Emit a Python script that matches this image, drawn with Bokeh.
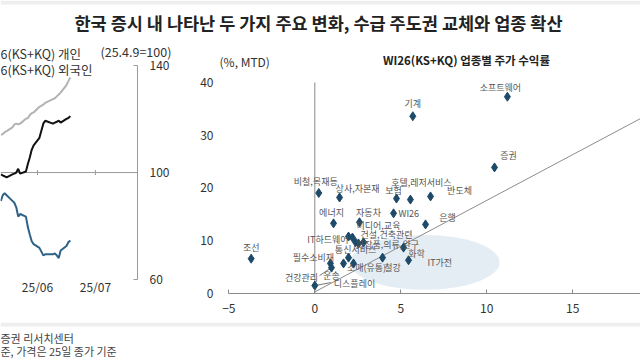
from bokeh.plotting import figure
from bokeh.models import ColumnDataSource, Label, FixedTicker, Range1d, BoxAnnotation
from bokeh.layouts import column, row
from bokeh.embed import file_html
from bokeh.resources import INLINE
from bokeh.core.properties import value, field

FONT = "Noto Sans CJK KR"

# ---------------- left chart data (index, 25.4.9 = 100) ----------------
line_days = [-19, -18, -17, -16, -13, -12, -11, -10, -9, -6, -5, -4, -3, -2,
             1, 3, 4, 8, 9, 10, 11, 12, 15, 16, 17]
gray_vals = [114.1, 114.4, 115.1, 115.5, 116.9, 118.0, 118.3, 118.0, 118.3, 120.1,
             120.4, 121.5, 122.2, 122.5, 124.6, 125.4, 126.1, 127.5, 127.8, 128.5,
             129.2, 129.9, 132.7, 134.2, 135.6]
black_vals = [99.3, 98.9, 98.6, 98.2, 99.3, 99.6, 100.0, 101.4, 99.6, 100.4,
              103.2, 105.6, 108.5, 110.2, 113.0, 118.3, 119.4, 118.3, 118.7, 119.0,
              119.4, 118.7, 120.1, 120.4, 121.1]
blue_vals = [89.4, 91.5, 92.3, 91.5, 89.4, 88.7, 87.0, 83.5, 84.5, 83.5,
             79.6, 76.8, 74.3, 73.2, 71.8, 69.0, 69.4, 69.4, 69.7, 69.0,
             68.0, 70.8, 72.5, 73.9, 74.6]
left_y_ticks = [60, 100, 140]
left_x_ticks = [0, 30]
left_x_labels = ["25/06", "25/07"]
legend_texts = ["6(KS+KQ) 개인", "6(KS+KQ) 외국인"]

# ---------------- right chart data (%, MTD) ----------------
sectors = ["조선", "기계", "소프트웨어", "증권", "비철,목재등", "상사,자본재", "보험",
           "호텔,레저서비스", "반도체", "에너지", "자동차", "WI26", "은행",
           "미디어,교육", "건설,건축관련", "IT하드웨어", "화장품,의류,완구", "통신서비스",
           "화학", "IT가전", "필수소비재", "건강관리", "운송", "소매(유통)", "철강",
           "디스플레이", "유틸리티"]
ret_x = [-3.7, 5.7, 11.2, 10.45, 0.23, 1.44, 4.75, 5.56, 6.73, 1.09, 2.6, 4.58, 6.44,
         2.83, 2.54, 1.96, 2.19, 2.37, 5.16, 5.45, 0.91, 0.97, 1.67, 2.25, 3.94,
         0.0, 1.96]
ret_y = [6.6, 33.6, 37.3, 23.9, 19.05, 18.2, 18.0, 17.8, 18.4, 13.3, 13.5, 15.2, 13.1,
         9.7, 9.5, 10.8, 10.6, 9.7, 8.7, 6.3, 5.7, 4.9, 5.7, 5.7, 6.8,
         1.5, 6.8]
# label placement (pixels) and alignment
lab_dx = [0, 0, -7, 14, -3, 18, -3, 11, 29, -2, 9, 5, 22,
          15, 28, 0, 35, 0, 13, 19, -17, -30, -12, 13, 10, 19, 0]
lab_dy = [-11, -13, -9, -12, -12, -9, -8, -17, -6, -11, -10, 0, -7,
          -17, -9, 3, 7, 7, 6, 2, -6, 10, 12, 4, 10, -2, 0]
lab_align = ["center", "center", "center", "center", "center", "center", "center",
             "center", "center", "center", "center", "left", "center",
             "center", "center", "right", "center", "center", "center", "left",
             "center", "center", "center", "center", "center", "left", "center"]
lab_text = sectors[:-1] + [""]
# leader lines: (sector, pixel offset of the far end)
leaders = [("디스플레이", 16, -3), ("건강관리", -12, 8)]
x_ticks = [-5, 0, 5, 10, 15, 20]
y_ticks = [0, 10, 20, 30, 40]
trend_x = [0, 20]
trend_y = [0.3, 35.0]
blob_x, blob_y, blob_w, blob_h = 6.4, 5.9, 8.7, 10.4

AX = "#9a9a9a"
TXT = "#333333"


def strip(w, h):
    f = figure(width=w, height=h, x_range=Range1d(0, w), y_range=Range1d(0, h),
               x_axis_location=None, y_axis_location=None, output_backend="svg",
               toolbar_location=None, min_border=0, outline_line_color=None)
    f.grid.visible = False
    return f


# ---------------- title strip (page y 0..40) ----------------
tf = strip(640, 40)
tf.add_layout(BoxAnnotation(bottom=36, top=40, fill_color="#eeeeee", fill_alpha=1, line_color=None))
tf.add_layout(Label(x=318, y=18, text="한국 증시 내 나타난 두 가지 주요 변화, 수급 주도권 교체와 업종 확산",
                    text_align="center", text_baseline="middle", text_font=FONT,
                    text_font_size="17.5px", text_font_style="bold", text_color="#222222"))


# ---------------- left chart (page x 0..185, y 40..322) ----------------
def lx(px):
    return (px - 37) / 1.93


def ly(py):
    return 140 - (py - 68) / 2.8375


lf = figure(width=185, height=282, x_range=Range1d(lx(0), lx(185)), y_range=Range1d(54.74, 149.41),
            x_axis_location=None, y_axis_location="right", output_backend="svg",
            toolbar_location=None, min_border=0, outline_line_color=None)
lf.grid.visible = False
yax = lf.yaxis[0]
yax.fixed_location = lx(137)
yax.ticker = FixedTicker(ticks=left_y_ticks)
yax.bounds = (left_y_ticks[0], left_y_ticks[-1])
yax.axis_line_color = AX
yax.major_tick_line_color = AX
yax.major_tick_in = 4
yax.major_tick_out = 0
yax.minor_tick_line_color = None
yax.major_label_standoff = 12
yax.major_label_text_font = FONT
yax.major_label_text_font_size = "12px"
yax.major_label_text_color = TXT
lf.segment(x0=[lx(0)], y0=[100], x1=[yax.fixed_location], y1=[100], line_color=AX, line_width=1)
lf.scatter(x=left_x_ticks, y=[100] * len(left_x_ticks), marker="dash", angle=1.5708,
           size=5, line_color=AX)
# month labels at the bottom of the panel
lf.text(x=left_x_ticks, y=[57.33] * len(left_x_ticks), text=left_x_labels,
        text_align="center", text_baseline="middle", text_font=value(FONT),
        text_font_size="12px", text_color=TXT)
lf.line(line_days, gray_vals, line_color="#b3b3b3", line_width=2)
lf.line(line_days, black_vals, line_color="#111111", line_width=2)
lf.line(line_days, blue_vals, line_color="#2e6287", line_width=2)
lf.add_layout(Label(x=lx(100), y=ly(53), text="(25.4.9=100)", text_font=FONT,
                    text_font_size="12.5px", text_color=TXT, text_baseline="middle"))
for i, t in enumerate(legend_texts):
    lf.add_layout(Label(x=lx(0), y=ly(55 + 17 * i), text=t, text_font=FONT,
                        text_font_size="12.5px", text_color=TXT, text_baseline="middle"))

# ---------------- right chart (scatter, page y 40..322) ----------------
rf = figure(width=455, height=282, x_range=Range1d(-5.60, 18.94), y_range=Range1d(0, 47.96),
            output_backend="svg", toolbar_location=None,
            min_border_left=33, min_border_right=0, min_border_top=0, min_border_bottom=29,
            outline_line_color=None)
rf.grid.visible = False
rf.xaxis.ticker = FixedTicker(ticks=x_ticks)
rf.xaxis.bounds = (x_ticks[0], x_ticks[-1])
rf.xaxis.axis_line_color = "#8a8a8a"
rf.xaxis.major_tick_line_color = "#8a8a8a"
rf.xaxis.major_tick_in = 4
rf.xaxis.major_tick_out = 0
rf.xaxis.minor_tick_line_color = None
rf.xaxis.major_label_standoff = 10
rf.yaxis.ticker = FixedTicker(ticks=y_ticks)
rf.yaxis.axis_line_color = None
rf.yaxis.major_tick_line_color = None
rf.yaxis.minor_tick_line_color = None
rf.yaxis.major_tick_in = 0
rf.yaxis.major_tick_out = 0
rf.yaxis.minor_tick_out = 0
rf.yaxis.major_label_standoff = 5
for ax in (rf.xaxis, rf.yaxis):
    ax.major_label_text_font = FONT
    ax.major_label_text_font_size = "12px"
    ax.major_label_text_color = TXT

PX_X = 422 / (18.94 + 5.60)   # pixels per x unit
PX_Y = 253 / 47.96            # pixels per y unit

rf.ellipse(x=blob_x, y=blob_y, width=blob_w, height=blob_h, fill_color="#dfe8f1",
           fill_alpha=0.8, line_color=None)
rf.segment(x0=0, y0=y_ticks[0], x1=0, y1=y_ticks[-1], line_color="#8a8a8a", line_width=1)
rf.line(trend_x, trend_y, line_color="#8c8c8c", line_width=1)

lx0, ly0, lx1, ly1 = [], [], [], []
for name, ox, oy in leaders:
    i = sectors.index(name)
    lx0.append(ret_x[i])
    ly0.append(ret_y[i])
    lx1.append(ret_x[i] + ox / PX_X)
    ly1.append(ret_y[i] - oy / PX_Y)
rf.segment(x0=lx0, y0=ly0, x1=lx1, y1=ly1, line_color="#777777", line_width=1)

src = ColumnDataSource(dict(x=ret_x, y=ret_y, name=lab_text, dx=lab_dx, dy=lab_dy, align=lab_align))
rf.scatter(x="x", y="y", source=src, marker="diamond", size=9,
           fill_color="#1d4a68", line_color="#1d4a68")
rf.text(x="x", y="y", text="name", x_offset="dx", y_offset="dy", text_align=field("align"),
        text_baseline="middle", text_font=value(FONT), text_font_size="9px",
        text_color="#555555", source=src)


def rx(px):
    return (px - 314.3) / 17.2


def ry(py):
    return (293 - py) / 5.275


rf.add_layout(Label(x=rx(219), y=ry(61), text="(%, MTD)", text_align="left",
                    text_baseline="middle", text_font=FONT, text_font_size="12px",
                    text_color=TXT))
rf.add_layout(Label(x=rx(466), y=ry(60), text="WI26(KS+KQ) 업종별 주가 수익률",
                    text_align="center", text_baseline="middle", text_font=FONT,
                    text_font_size="11.5px", text_font_style="bold", text_color="#222222"))

# ---------------- footnote strip (page y 322..360) ----------------
nf = strip(640, 38)
nf.add_layout(BoxAnnotation(bottom=34, top=38, fill_color="#eeeeee", fill_alpha=1,
                            line_color=None))
nf.add_layout(Label(x=0, y=23, text="증권 리서치센터", text_baseline="middle",
                    text_font=FONT, text_font_size="11px", text_color="#444444"))
nf.add_layout(Label(x=0, y=10, text="준, 가격은 25일 종가 기준", text_baseline="middle",
                    text_font=FONT, text_font_size="11px", text_color="#444444"))

p = column(tf, row(lf, rf), nf)
open("out.html", "w").write(file_html(p, INLINE))
